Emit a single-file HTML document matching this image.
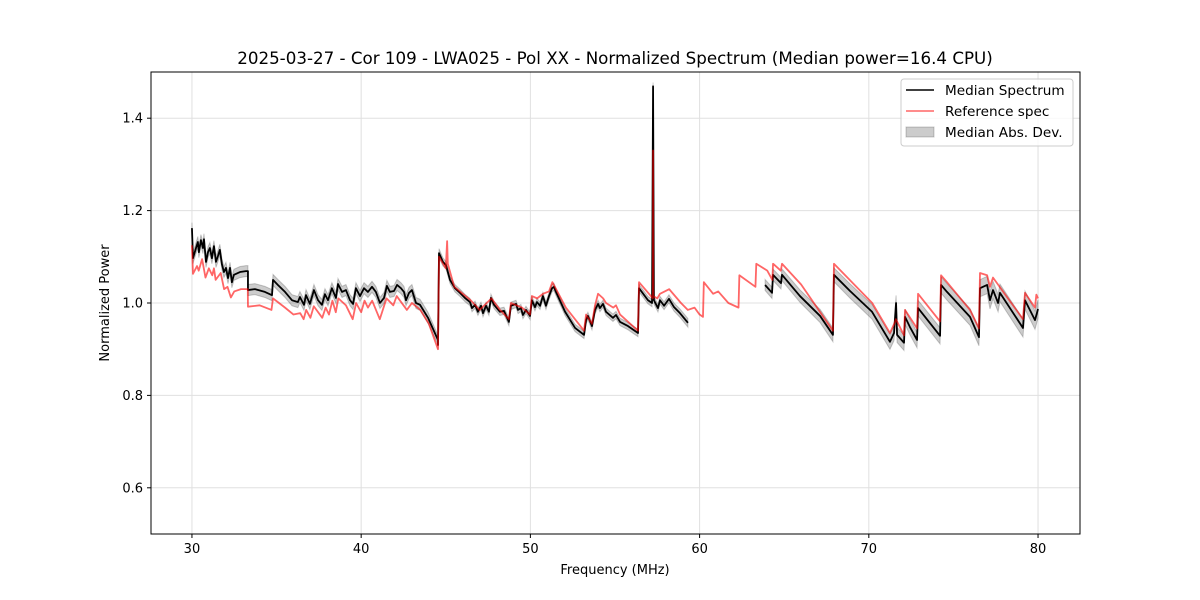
<!DOCTYPE html>
<html><head><meta charset="utf-8"><style>
body{margin:0;background:#fff}
svg{display:block;font-family:"DejaVu Sans","Liberation Sans",sans-serif}
</style></head><body>
<svg id="chart" width="1200" height="600" xmlns="http://www.w3.org/2000/svg"></svg>
<script>
const xTicks=[30,40,50,60,70,80];
const yTicks=[0.6,0.8,1.0,1.2,1.4];
const yTickLabels=["0.6","0.8","1.0","1.2","1.4"];
const medianFreq=[30.00,30.06,30.24,30.35,30.41,30.53,30.65,30.71,30.83,30.95,31.06,31.18,31.30,31.42,31.54,31.65,31.77,31.89,32.01,32.13,32.25,32.36,32.48,32.84,33.19,33.31,33.31,33.72,34.31,34.73,34.79,35.08,35.50,35.91,36.26,36.38,36.62,36.74,36.97,37.21,37.45,37.68,37.86,38.04,38.27,38.51,38.63,38.87,39.10,39.34,39.52,39.69,39.93,40.17,40.40,40.64,40.87,41.11,41.35,41.52,41.70,41.94,42.12,42.35,42.53,42.65,42.83,43.00,43.24,43.48,43.95,44.54,44.54,44.60,44.83,45.01,45.25,45.54,45.84,46.13,46.43,46.55,46.73,46.90,47.08,47.20,47.38,47.55,47.67,47.85,48.20,48.44,48.73,48.85,49.15,49.27,49.44,49.56,49.74,49.98,50.09,50.27,50.39,50.57,50.74,50.92,51.10,51.28,51.39,51.51,52.05,52.64,53.17,53.29,53.40,53.64,53.82,54.00,54.11,54.29,54.47,54.88,55.06,55.30,55.77,56.36,56.42,56.95,57.19,57.25,57.30,57.54,57.66,57.90,58.19,58.49,58.84,59.31,null,63.87,64.28,64.34,64.81,64.87,65.93,67.12,67.88,67.94,68.89,70.19,71.25,71.49,71.61,71.67,72.08,72.14,72.43,72.85,72.91,74.21,74.27,74.62,75.98,76.51,76.57,76.99,77.16,77.34,77.64,77.75,79.11,79.23,79.82,80.00];
const medianPower=[1.162,1.097,1.119,1.132,1.110,1.136,1.119,1.138,1.089,1.110,1.119,1.097,1.123,1.089,1.102,1.115,1.084,1.067,1.076,1.054,1.076,1.045,1.061,1.067,1.069,1.069,1.028,1.030,1.024,1.017,1.050,1.039,1.024,1.006,1.002,1.013,0.996,1.017,0.998,1.028,1.006,0.996,1.019,1.006,1.032,1.011,1.041,1.024,1.028,1.006,0.998,1.032,1.015,1.032,1.024,1.035,1.024,1.000,1.011,1.037,1.024,1.026,1.039,1.032,1.024,1.006,1.022,1.028,1.000,0.996,0.968,0.920,0.909,1.108,1.089,1.082,1.050,1.032,1.022,1.011,1.002,0.989,0.996,0.981,0.994,0.978,0.994,0.981,1.011,0.996,0.981,0.983,0.959,0.994,0.998,0.985,0.989,0.974,0.985,0.972,1.006,0.991,1.002,0.994,1.015,0.994,1.015,1.032,1.035,1.024,0.981,0.946,0.931,0.963,0.972,0.950,0.985,0.998,0.989,0.998,0.981,0.968,0.974,0.959,0.950,0.935,1.032,1.006,1.000,1.469,1.006,0.989,1.006,0.994,1.009,0.991,0.978,0.957,null,1.039,1.022,1.061,1.043,1.061,1.015,0.972,0.931,1.061,1.026,0.981,0.916,0.935,1.000,0.931,0.914,0.970,0.948,0.920,0.989,0.929,1.039,1.024,0.970,0.926,1.032,1.039,1.006,1.028,1.000,1.022,0.946,1.006,0.963,0.987];
const refFreq=[30.00,30.06,30.3,30.4,30.6,30.8,31.0,31.2,31.3,31.4,31.7,31.9,32.1,32.3,32.5,32.9,33.3,33.31,34.0,34.7,34.79,35.5,36.0,36.4,36.6,36.75,37.0,37.2,37.7,37.9,38.1,38.3,38.5,38.65,39.1,39.5,39.7,40.0,40.2,40.4,40.65,41.1,41.5,41.9,42.1,42.5,42.7,43.0,43.5,44.0,44.54,44.6,45.0,45.08,45.12,45.5,46.5,47.0,47.7,48.2,48.73,48.85,49.5,49.98,50.09,50.4,50.75,51.1,51.3,52.1,53.17,53.29,53.64,53.82,54.0,54.3,54.47,54.9,55.06,55.3,56.36,56.42,57.24,57.25,57.26,57.5,57.66,58.2,58.9,59.3,59.7,60.0,60.2,60.25,60.8,61.1,61.7,62.3,62.35,63.3,63.35,64.0,64.3,64.34,64.8,64.87,66.0,67.88,67.94,70.2,71.25,71.5,71.6,72.08,72.14,72.85,72.91,74.21,74.27,74.62,75.98,76.51,76.57,76.99,77.16,77.34,79.11,79.23,79.82,79.9,80.0];
const refPower=[1.125,1.063,1.08,1.07,1.095,1.055,1.075,1.06,1.075,1.05,1.065,1.03,1.035,1.012,1.025,1.03,1.03,0.992,0.995,0.985,1.01,0.99,0.975,0.978,0.965,0.985,0.968,0.993,0.968,0.99,0.975,1.005,0.98,1.01,0.995,0.965,1.0,0.98,1.005,0.99,1.005,0.965,1.01,0.995,1.015,0.995,0.985,1.0,0.985,0.955,0.9,1.1,1.075,1.134,1.085,1.035,1.005,0.985,1.01,0.985,0.965,1.0,0.99,0.975,1.015,1.01,1.02,1.025,1.045,0.99,0.94,0.975,0.955,0.995,1.02,1.01,1.0,0.99,0.995,0.975,0.94,1.045,1.01,1.33,1.015,1.01,1.02,1.03,1.0,0.985,0.99,0.975,0.97,1.045,1.02,1.025,1.0,0.99,1.06,1.035,1.085,1.07,1.05,1.085,1.07,1.085,1.04,0.94,1.085,1.0,0.935,0.955,0.965,0.93,0.985,0.945,1.02,0.96,1.06,1.045,0.985,0.945,1.065,1.06,1.035,1.055,0.965,1.022,0.99,1.018,1.01];
const madFreq=[30,44,45,57,64,68,80];
const madWidth=[0.012,0.012,0.008,0.008,0.012,0.015,0.02];

const L=151,R=1080,T=72,B=534,XMIN=27.58,XMAX=82.48,YMIN=0.5,YMAX=1.5;
const sx=f=>L+(f-XMIN)/(XMAX-XMIN)*(R-L);
const sy=v=>B-(v-YMIN)/(YMAX-YMIN)*(B-T);
const svg=document.getElementById('chart');
const NS='http://www.w3.org/2000/svg';
function mk(tag,attrs,parent){const e=document.createElementNS(NS,tag);for(const k in attrs)e.setAttribute(k,attrs[k]);(parent||svg).appendChild(e);return e;}
function madAt(f){for(let i=0;i<madFreq.length-1;i++){if(f<=madFreq[i+1]){const t=(f-madFreq[i])/(madFreq[i+1]-madFreq[i]);return madWidth[i]+t*(madWidth[i+1]-madWidth[i]);}}return madWidth[madWidth.length-1];}

xTicks.forEach(t=>{const g=mk('line',{x1:sx(t),x2:sx(t),y1:T,y2:B,stroke:'#e0e0e0','stroke-width':1});

});
yTicks.forEach(t=>{const g=mk('line',{x1:L,x2:R,y1:sy(t),y2:sy(t),stroke:'#e0e0e0','stroke-width':1});

});

function segments(fs,vs){const segs=[];let cur=[];for(let i=0;i<fs.length;i++){if(fs[i]===null){if(cur.length)segs.push(cur);cur=[];}else cur.push([fs[i],vs[i]]);}if(cur.length)segs.push(cur);return segs;}
const medSegs=segments(medianFreq,medianPower);
medSegs.forEach(seg=>{let up=seg.map(p=>sx(p[0])+','+sy(p[1]+madAt(p[0])));let dn=seg.slice().reverse().map(p=>sx(p[0])+','+sy(p[1]-madAt(p[0])));
const b=mk('polygon',{points:up.concat(dn).join(' '),fill:'#000','fill-opacity':0.2,stroke:'#000','stroke-opacity':0.2,'stroke-width':1});

});
medSegs.forEach(seg=>{const p=mk('polyline',{points:seg.map(q=>sx(q[0])+','+sy(q[1])).join(' '),fill:'none',stroke:'#000','stroke-width':1.8,'stroke-linejoin':'round'});

});
const rp=mk('polyline',{points:refFreq.map((f,i)=>sx(f)+','+sy(refPower[i])).join(' '),fill:'none',stroke:'#ff0000','stroke-opacity':0.6,'stroke-width':1.8,'stroke-linejoin':'round'});



const fr=mk('rect',{x:L,y:T,width:R-L,height:B-T,fill:'none',stroke:'#000','stroke-width':1});


xTicks.forEach(t=>{mk('line',{x1:sx(t),x2:sx(t),y1:B,y2:B+4,stroke:'#000'});
const tx=mk('text',{x:sx(t),y:B+19,'text-anchor':'middle','font-size':13});tx.textContent=String(t);

});
yTicks.forEach((t,i)=>{mk('line',{x1:L-4,x2:L,y1:sy(t),y2:sy(t),stroke:'#000'});
const tx=mk('text',{x:L-8,y:sy(t)+4.5,'text-anchor':'end','font-size':13});tx.textContent=yTickLabels[i];

});
</script>
<svg width="1200" height="600" style="position:absolute;left:0;top:0">
<text x="615" y="64" text-anchor="middle" font-size="16.7" font-family="DejaVu Sans, sans-serif">2025-03-27 - Cor 109 - LWA025 - Pol XX - Normalized Spectrum (Median power=16.4 CPU)</text>
<text x="615" y="574" text-anchor="middle" font-size="13" font-family="DejaVu Sans, sans-serif">Frequency (MHz)</text>
<text transform="translate(109,303) rotate(-90)" text-anchor="middle" font-size="13" font-family="DejaVu Sans, sans-serif">Normalized Power</text>
<g font-family="DejaVu Sans, sans-serif" font-size="13.6">
<rect x="901" y="79" width="172" height="67" rx="3" fill="#fff" fill-opacity="0.8" stroke="#ccc"/>
<line x1="906" y1="90" x2="934" y2="90" stroke="#000" stroke-width="1.6"/>
<text x="945" y="95">Median Spectrum</text>
<line x1="906" y1="111" x2="934" y2="111" stroke="#ff0000" stroke-opacity="0.6" stroke-width="1.6"/>
<text x="945" y="116">Reference spec</text>
<rect x="906" y="127" width="28" height="10" fill="#000" fill-opacity="0.2" stroke="#000" stroke-opacity="0.2"/>
<text x="945" y="137">Median Abs. Dev.</text>
</g>
</svg>
</body></html>
